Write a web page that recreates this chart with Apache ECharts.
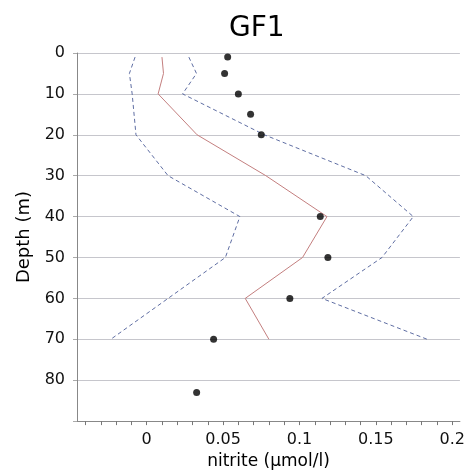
<!DOCTYPE html>
<html>
<head>
<meta charset="utf-8">
<script src="https://cdn.jsdelivr.net/npm/echarts@6/dist/echarts.min.js"></script>
<style>
html,body{margin:0;padding:0;background:#fff;}
#chart{width:468px;height:475px;}
</style>
</head>
<body>
<div id="chart"></div>
<script>
// Depths (m) of the profile lines
var lineDepths = [1, 5, 10, 20, 30, 40, 50, 60, 70];
// Middle (red) profile, µmol/l
var midValues = [0.010, 0.011, 0.0075, 0.033, 0.078, 0.118, 0.102, 0.0645, 0.080];
// Lower dashed bound
var lowValues = [-0.0076, -0.0113, -0.0095, -0.007, 0.014, 0.061, 0.0515, 0.014, -0.0235];
// Upper dashed bound
var highValues = [0.0276, 0.0326, 0.0235, 0.077, 0.1434, 0.1745, 0.154, 0.1147, 0.1836];
// Observations (dots)
var obsDepths = [1, 5, 10, 15, 20, 40, 50, 60, 70, 83];
var obsValues = [0.053, 0.051, 0.060, 0.068, 0.075, 0.1136, 0.1186, 0.0937, 0.0438, 0.0327];
// Axis ticks
var xLabelTicks = [0, 0.05, 0.1, 0.15, 0.2];
var xAllTicks = [-0.04, -0.03, -0.02, -0.01, 0, 0.01, 0.02, 0.03, 0.04, 0.05, 0.06, 0.07, 0.08, 0.09, 0.1,
  0.11, 0.12, 0.13, 0.14, 0.15, 0.16, 0.17, 0.18, 0.19, 0.2];
var yTickLabels = [0, 10, 20, 30, 40, 50, 60, 70, 80];

function pairs(xs, ys) {
  return xs.map(function (v, i) { return [v, ys[i]]; });
}

var FONT = 'DejaVu Sans';
var chart = echarts.init(document.getElementById('chart'), null, {renderer: 'canvas'});
chart.setOption({
  animation: false,
  backgroundColor: '#fff',
  title: {
    text: 'GF1',
    left: 229,
    top: 15,
    padding: 0,
    textStyle: {fontFamily: FONT, fontSize: 28, fontWeight: 'normal', color: '#000'}
  },
  grid: {left: 77, right: 6, top: 53, bottom: 53, containLabel: false},
  xAxis: {
    type: 'value',
    min: -0.0456,
    max: 0.205,
    name: 'nitrite (\u03bcmol/l)',
    nameLocation: 'middle',
    nameGap: 29,
    nameTextStyle: {fontFamily: FONT, fontSize: 17, color: '#000'},
    axisLine: {show: true, onZero: false, lineStyle: {color: '#888', width: 1}},
    axisTick: {show: true, length: 4, inside: false, customValues: xAllTicks, lineStyle: {color: '#777'}},
    axisLabel: {
      customValues: xLabelTicks,
      margin: 11,
      fontFamily: FONT, fontSize: 16, color: '#111',
      formatter: function (v) { return String(+v.toFixed(2)); }
    },
    splitLine: {show: false}
  },
  yAxis: {
    type: 'value',
    inverse: true,
    min: 0,
    max: 90,
    interval: 10,
    name: 'Depth (m)',
    nameLocation: 'middle',
    nameRotate: 90,
    nameGap: 44,
    nameTextStyle: {fontFamily: FONT, fontSize: 18, color: '#000'},
    axisLine: {show: true, onZero: false, lineStyle: {color: '#888', width: 1}},
    axisTick: {show: true, length: 4, lineStyle: {color: '#aaa'}},
    axisLabel: {
      margin: 12,
      fontFamily: FONT, fontSize: 16, color: '#111',
      formatter: function (v) { return yTickLabels.indexOf(v) >= 0 ? String(v) : ''; }
    },
    splitLine: {show: true, lineStyle: {color: '#c6c6cc', width: 1}}
  },
  series: [
    {
      type: 'line', data: pairs(lowValues, lineDepths), symbol: 'none',
      lineStyle: {color: '#5f6ea3', width: 1, type: [4, 3]}, z: 3
    },
    {
      type: 'line', data: pairs(highValues, lineDepths), symbol: 'none',
      lineStyle: {color: '#5f6ea3', width: 1, type: [4, 3]}, z: 3
    },
    {
      type: 'line', data: pairs(midValues, lineDepths), symbol: 'none',
      lineStyle: {color: '#c47f7f', width: 1}, z: 4
    },
    {
      type: 'scatter', data: pairs(obsValues, obsDepths), symbol: 'circle', symbolSize: 7,
      itemStyle: {color: '#000'}, z: 5
    }
  ]
});
</script>
</body>
</html>
